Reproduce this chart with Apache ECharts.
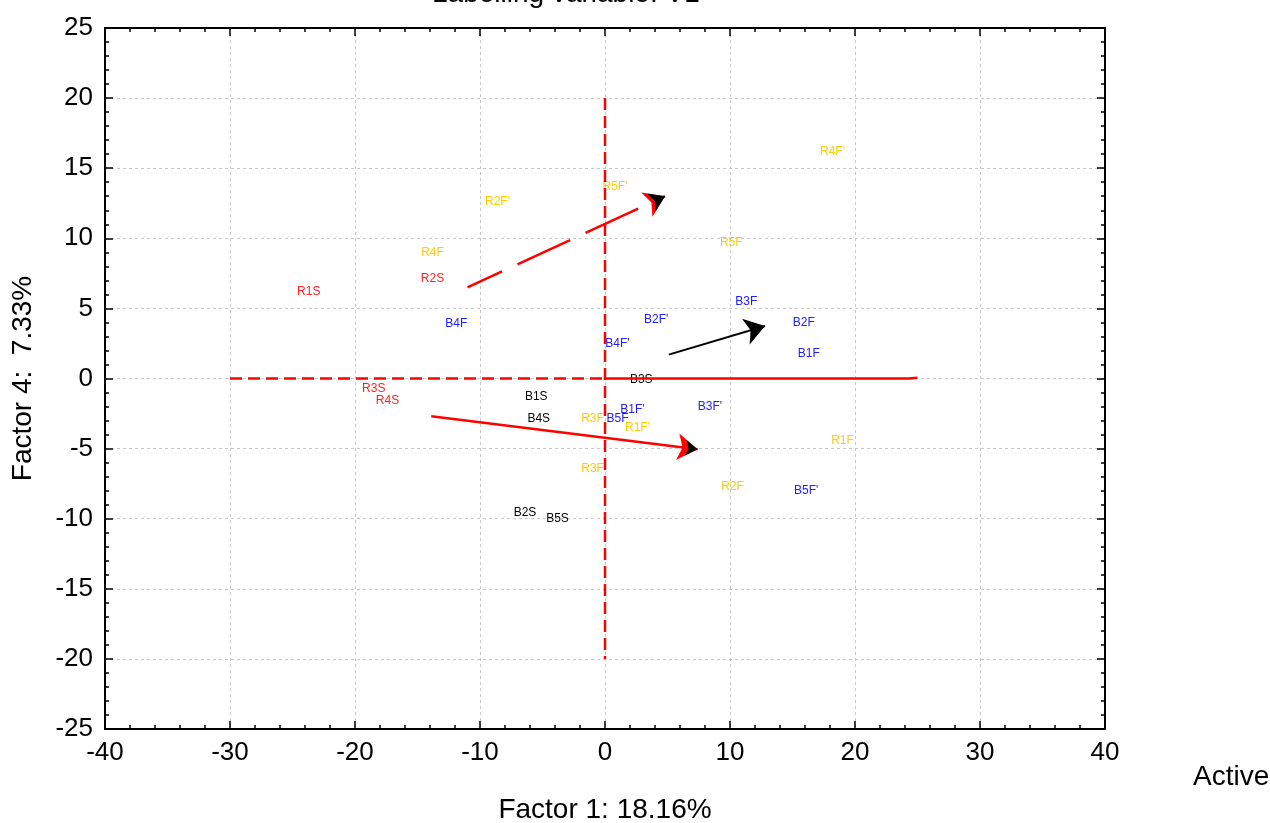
<!DOCTYPE html>
<html>
<head>
<meta charset="utf-8">
<script src="https://cdn.jsdelivr.net/npm/echarts@6/dist/echarts.min.js"></script>
<style>html,body{margin:0;padding:0;background:#fff}#c{width:1270px;height:823px}</style>
</head>
<body>
<div id="c"></div>
<script>
// ---- data ----
const xTicks = [-40, -30, -20, -10, 0, 10, 20, 30, 40];
const yTicks = [-25, -20, -15, -10, -5, 0, 5, 10, 15, 20, 25];

const redSLabels = ['R1S', 'R2S', 'R3S', 'R4S'];
const redSPoints = [[-23.7, 6.2], [-13.8, 7.1], [-18.5, -0.75], [-17.4, -1.6]];

const yellowLabels = ["R4F'", "R5F'", "R2F'", 'R4F', 'R5F', 'R3F', "R1F'", 'R1F', "R3F'", 'R2F'];
const yellowPoints = [[18.2, 16.2], [0.8, 13.7], [-8.6, 12.6], [-13.8, 9.0], [10.1, 9.7], [-1.0, -2.9], [2.6, -3.5], [19.0, -4.4], [-0.9, -6.4], [10.2, -7.7]];

const blueLabels = ['B3F', 'B2F', 'B4F', "B2F'", "B4F'", 'B1F', "B1F'", "B3F'", 'B5F', "B5F'"];
const bluePoints = [[11.3, 5.5], [15.9, 4.0], [-11.9, 3.9], [4.1, 4.2], [1.0, 2.5], [16.3, 1.8], [2.2, -2.2], [8.4, -2.0], [1.0, -2.9], [16.1, -8.0]];

const blackLabels = ['B3S', 'B1S', 'B4S', 'B2S', 'B5S'];
const blackPoints = [[2.9, -0.1], [-5.5, -1.3], [-5.3, -2.9], [-6.4, -9.6], [-3.8, -10.0]];

const hDashed = [[-30, 0], [0, 0]];
const hSolid = [[0, 0], [24.3, 0], [25, 0.05]];
const vDashed = [[0, 20], [0, -20]];
const arrowUpper = [[-11.0, 6.5], [4.8, 13.0]];
const arrowBlack = [[5.1, 1.7], [12.8, 3.75]];
const arrowLower = [[-13.9, -2.7], [7.4, -5.05]];

// ---- chart ----
const font = 'Arial, "Liberation Sans", sans-serif';
function mk(labels, pts) { return pts.map((p, i) => ({ value: p, name: labels[i] })); }
function labelSeries(labels, pts, color) {
  return {
    type: 'scatter', symbolSize: 0, data: mk(labels, pts), silent: true,
    itemStyle: { opacity: 1 },
    label: { show: true, position: 'inside', formatter: p => p.name, color: color, opacity: 1, fontSize: 12, fontFamily: font }
  };
}
function nearEnd(seg, f) {
  const [a, b] = seg;
  return [[a[0] + (b[0] - a[0]) * f, a[1] + (b[1] - a[1]) * f], b];
}
const chart = echarts.init(document.getElementById('c'));
const axisCommon = {
  axisLine: { show: true, onZero: false, lineStyle: { color: '#000', width: 2 } },
  axisTick: { show: true, inside: true, length: 8, lineStyle: { color: '#000', width: 1.5 } },
  minorTick: { show: true, splitNumber: 5, length: 4, lineStyle: { color: '#000', width: 1.5 } },
};
chart.setOption({
  animation: false,
  backgroundColor: '#fff',
  grid: { left: 105, right: 165, top: 28, bottom: 94, containLabel: false, outerBoundsMode: 'none' },
  graphic: [
    { type: 'text', left: 432, top: -20, style: { text: 'Labelling variable: V1', font: '28px ' + font, fill: '#000' } },
    { type: 'text', left: 1193, top: 763, style: { text: 'Active', font: '28px ' + font, fill: '#000' } }
  ],
  xAxis: [
    Object.assign({
      type: 'value', min: xTicks[0], max: xTicks[xTicks.length - 1], interval: 10, position: 'bottom',
      name: 'Factor 1: 18.16%', nameLocation: 'middle', nameGap: 67,
      nameTextStyle: { fontSize: 28, fontFamily: font, color: '#000' },
      axisLabel: { fontSize: 26, fontFamily: font, color: '#000', margin: 11 },
      splitLine: { show: true, lineStyle: { color: '#c8c8c8', type: [3, 3], width: 1 } }
    }, axisCommon),
    Object.assign({
      type: 'value', min: xTicks[0], max: xTicks[xTicks.length - 1], interval: 10, position: 'top',
      axisLabel: { show: false }, splitLine: { show: false }
    }, axisCommon)
  ],
  yAxis: [
    Object.assign({
      type: 'value', min: yTicks[0], max: yTicks[yTicks.length - 1], interval: 5, position: 'left',
      name: 'Factor 4:  7.33%', nameLocation: 'middle', nameGap: 68, nameRotate: 90,
      nameTextStyle: { fontSize: 28, fontFamily: font, color: '#000' },
      axisLabel: { fontSize: 26, fontFamily: font, color: '#000', margin: 12 },
      splitLine: { show: true, lineStyle: { color: '#c8c8c8', type: [3, 3], width: 1 } }
    }, axisCommon),
    Object.assign({
      type: 'value', min: yTicks[0], max: yTicks[yTicks.length - 1], interval: 5, position: 'right',
      axisLabel: { show: false }, splitLine: { show: false }
    }, axisCommon)
  ],
  series: [
    { type: 'line', data: hDashed, symbol: 'none', silent: true, lineStyle: { color: '#ff0000', width: 2.5, type: [12, 6] } },
    { type: 'line', data: hSolid, symbol: 'none', silent: true, lineStyle: { color: '#ff0000', width: 2.5 } },
    { type: 'line', data: vDashed, symbol: 'none', silent: true, lineStyle: { color: '#ff0000', width: 2.5, type: [12, 6] } },
    { type: 'lines', coordinateSystem: 'cartesian2d', silent: true, symbol: ['none', 'arrow'], symbolSize: 20,
      lineStyle: { color: '#ff0000', width: 2.5, opacity: 1, type: [58, 17], dashOffset: 20 }, data: [{ coords: arrowUpper }] },
    { type: 'lines', coordinateSystem: 'cartesian2d', silent: true, symbol: ['none', 'arrow'], symbolSize: 15,
      lineStyle: { color: '#000', width: 1, opacity: 1 }, data: [{ coords: nearEnd(arrowUpper, 0.98) }] },
    { type: 'lines', coordinateSystem: 'cartesian2d', silent: true, symbol: ['none', 'arrow'], symbolSize: 20,
      lineStyle: { color: '#000', width: 2, opacity: 1 }, data: [{ coords: arrowBlack }] },
    { type: 'lines', coordinateSystem: 'cartesian2d', silent: true, symbol: ['none', 'arrow'], symbolSize: 20,
      lineStyle: { color: '#ff0000', width: 2.5, opacity: 1 }, data: [{ coords: arrowLower }] },
    { type: 'lines', coordinateSystem: 'cartesian2d', silent: true, symbol: ['none', 'arrow'], symbolSize: 12,
      lineStyle: { color: '#000', width: 1, opacity: 1 }, data: [{ coords: nearEnd(arrowLower, 0.99) }] },
    labelSeries(redSLabels, redSPoints, '#ff2020'),
    labelSeries(yellowLabels, yellowPoints, '#ffcc00'),
    labelSeries(blueLabels, bluePoints, '#2020ff'),
    labelSeries(blackLabels, blackPoints, '#000000')
  ]
});
</script>
</body>
</html>
